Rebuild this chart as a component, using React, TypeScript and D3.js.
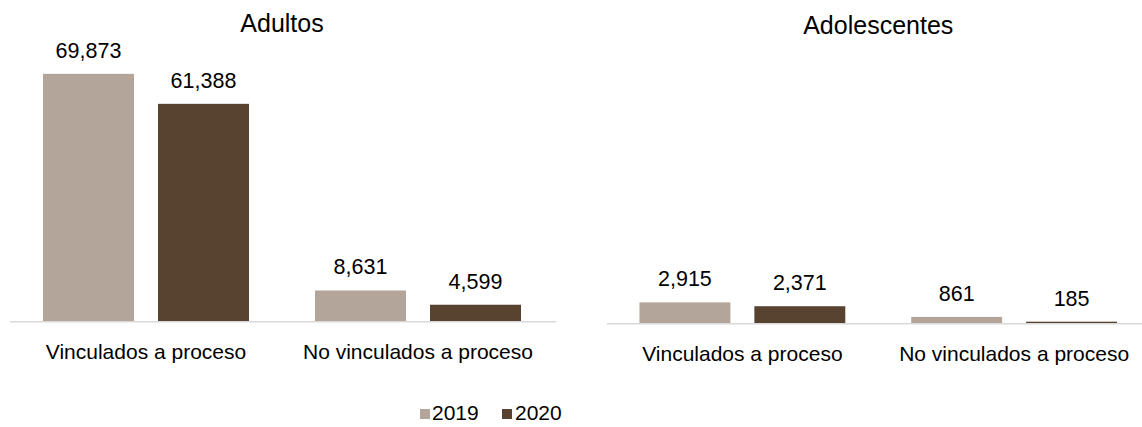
import React from "react";
import * as d3 from "d3";

const categories = ["Vinculados a proceso", "No vinculados a proceso"];
const years = ["2019", "2020"];
const adultos2019 = [69873, 8631];
const adultos2020 = [61388, 4599];
const adolescentes2019 = [2915, 861];
const adolescentes2020 = [2371, 185];
const colors = ["#B3A59A", "#574330"];

const W = 1142;
const H = 427;
const FONT = "'Liberation Sans', Arial, Helvetica, sans-serif";
const fmt = d3.format(",");

type PanelProps = {
  title: string;
  titleY: number;
  x0: number;
  x1: number;
  axisX0: number;
  axisX1: number;
  base: number;
  yMax: number;
  s2019: number[];
  s2020: number[];
  catLabelOffset: number;
};

function Panel(p: PanelProps) {
  const xBand = d3.scaleBand<string>().domain(categories).range([p.x0, p.x1]).padding(0);
  const bw = xBand.bandwidth();
  const inner = d3
    .scaleBand<string>()
    .domain(years)
    .range([bw * 0.1213, bw * (1 - 0.1213)])
    .paddingInner(0.2087)
    .paddingOuter(0);
  const y = d3.scaleLinear().domain([0, p.yMax]).range([p.base, p.base - 283]);
  const seriesVals = [p.s2019, p.s2020];
  return (
    <g>
      <text x={(p.x0 + p.x1) / 2} y={p.titleY} textAnchor="middle" fontSize={25} fill="#000" fontFamily={FONT}>
        {p.title}
      </text>
      {categories.map((c, ci) => (
        <g key={c}>
          {years.map((yr, si) => {
            const v = seriesVals[si][ci];
            const bx = (xBand(c) as number) + (inner(yr) as number);
            return (
              <g key={yr}>
                <rect x={bx} y={y(v)} width={inner.bandwidth()} height={p.base - y(v)} fill={colors[si]} />
                <text
                  x={bx + inner.bandwidth() / 2}
                  y={y(v) - 16}
                  textAnchor="middle"
                  fontSize={21.5}
                  fill="#000"
                  fontFamily={FONT}
                >
                  {fmt(v)}
                </text>
              </g>
            );
          })}
          <text
            x={(xBand(c) as number) + bw / 2}
            y={p.base + p.catLabelOffset}
            textAnchor="middle"
            fontSize={21}
            fill="#000"
            fontFamily={FONT}
          >
            {c}
          </text>
        </g>
      ))}
      <line x1={p.axisX0} x2={p.axisX1} y1={p.base + 0.75} y2={p.base + 0.75} stroke="#D9D9D9" strokeWidth={1.5} />
    </g>
  );
}

export default function App() {
  return (
    <svg
      width={W}
      height={H}
      style={{ position: "absolute", left: 0, top: 0, background: "#fff" }}
      xmlns="http://www.w3.org/2000/svg"
    >
      <rect width={W} height={H} fill="#fff" />
      <Panel
        title="Adultos"
        titleY={32}
        x0={10}
        x1={554}
        axisX0={10}
        axisX1={556}
        base={321}
        yMax={80000}
        s2019={adultos2019}
        s2020={adultos2020}
        catLabelOffset={38}
      />
      <Panel
        title="Adolescentes"
        titleY={34}
        x0={606.5}
        x1={1150}
        axisX0={607}
        axisX1={1142}
        base={323}
        yMax={40000}
        s2019={adolescentes2019}
        s2020={adolescentes2020}
        catLabelOffset={38}
      />
      <g fontFamily={FONT} fontSize={21} fill="#000">
        <rect x={420} y={409} width={10} height={10} fill={colors[0]} />
        <text x={432} y={420}>2019</text>
        <rect x={502} y={409} width={10} height={10} fill={colors[1]} />
        <text x={515} y={420}>2020</text>
      </g>
    </svg>
  );
}
